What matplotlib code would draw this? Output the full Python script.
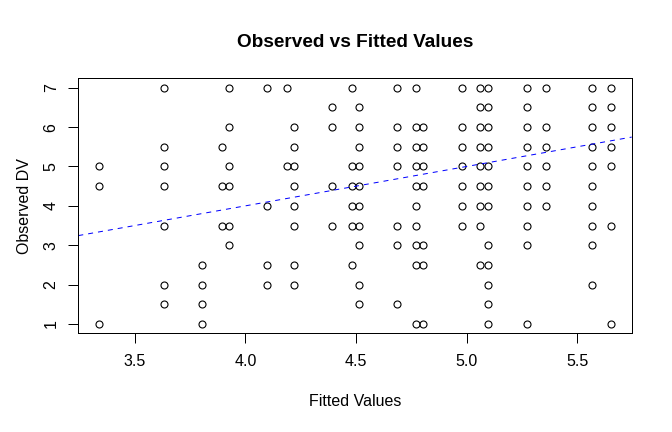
import numpy as np
import matplotlib
matplotlib.use("Agg")
import matplotlib.pyplot as plt

plt.rcParams['font.family'] = ['Liberation Sans', 'DejaVu Sans']

# distinct fitted values (x columns)
fitted_levels = [3.337, 3.631, 3.805, 3.892, 3.925, 4.099, 4.186, 4.219,
                 4.393, 4.480, 4.514, 4.684, 4.773, 4.805, 4.980, 5.061,
                 5.099, 5.272, 5.360, 5.568, 5.654]

# observed DV values seen in each column
observed_by_level = [
    [5, 4.5, 1],
    [7, 5.5, 5, 4.5, 3.5, 2, 1.5],
    [2.5, 2, 1.5, 1],
    [5.5, 4.5, 3.5],
    [7, 6, 5, 4.5, 3.5, 3],
    [7, 4, 2.5, 2],
    [7, 5],
    [6, 5.5, 5, 4.5, 4, 3.5, 2.5, 2],
    [6.5, 6, 4.5, 3.5],
    [7, 5, 4.5, 4, 3.5, 2.5],
    [6.5, 6, 5.5, 5, 4.5, 4, 3.5, 3, 2, 1.5],
    [7, 6, 5.5, 5, 3.5, 3, 1.5],
    [7, 6, 5.5, 5, 4.5, 4, 3.5, 3, 2.5, 1],
    [6, 5.5, 5, 4.5, 3, 2.5, 1],
    [7, 6, 5.5, 5, 4.5, 4, 3.5],
    [7, 6.5, 6, 5.5, 5, 4.5, 4, 3.5, 2.5],
    [7, 6.5, 6, 5.5, 5, 4.5, 4, 3, 2.5, 2, 1.5, 1],
    [7, 6.5, 6, 5.5, 5, 4.5, 4, 3.5, 3, 1],
    [7, 6, 5.5, 5, 4.5, 4],
    [7, 6.5, 6, 5.5, 5, 4.5, 4, 3.5, 3, 2],
    [7, 6.5, 6, 5.5, 5, 3.5, 1],
]

x_ticks = [3.5, 4.0, 4.5, 5.0, 5.5]
y_ticks = [1, 2, 3, 4, 5, 6, 7]

fitted = np.concatenate([[f] * len(obs) for f, obs in zip(fitted_levels, observed_by_level)])
observed = np.concatenate(observed_by_level)

fig = plt.figure(figsize=(672 / 72, 432 / 72), dpi=72)
ax = fig.add_axes([78.3 / 672, 1 - 333.4 / 432, (631.7 - 78.3) / 672, (333.4 - 78.3) / 432])

ax.plot(fitted, observed, linestyle='none', marker='o', ms=7, mfc='none',
        mec='black', mew=1.1)

# R-style 4% padding
rx = fitted.max() - fitted.min()
ry = observed.max() - observed.min()
ax.set_xlim(fitted.min() - 0.04 * rx, fitted.max() + 0.04 * rx)
ax.set_ylim(observed.min() - 0.04 * ry, observed.max() + 0.04 * ry)

# identity reference line
ax.axline((0, 0), slope=1, color='blue', lw=1, linestyle=(0, (5, 5)))

ax.set_xticks(x_ticks)
ax.set_xticklabels([f"{t:.1f}" for t in x_ticks])
ax.set_yticks(y_ticks)
ax.set_yticklabels([str(t) for t in y_ticks], rotation=90, va='center')
ax.tick_params(axis='both', direction='out', length=9.6, width=1, labelsize=16, color='black')
ax.tick_params(axis='x', pad=11)
ax.tick_params(axis='y', pad=10)

for s in ax.spines.values():
    s.set_linewidth(1)
    s.set_color('black')

ax.set_title("Observed vs Fitted Values", fontsize=19, fontweight='bold', pad=31)
ax.set_xlabel("Fitted Values", fontsize=16, labelpad=25)
ax.set_ylabel("Observed DV", fontsize=16, labelpad=12)

fig.savefig("out.png", dpi=72, facecolor='white')
